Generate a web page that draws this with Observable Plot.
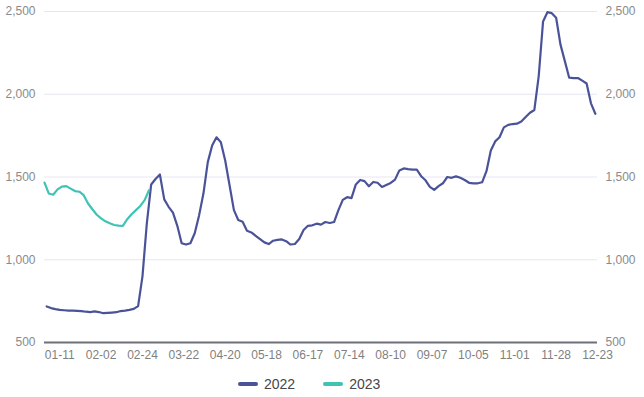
<!DOCTYPE html>
<html><head><meta charset="utf-8">
<script src="https://cdn.jsdelivr.net/npm/d3@7"></script>
<script src="https://cdn.jsdelivr.net/npm/@observablehq/plot@0.6"></script>
<style>
body{margin:0;background:#fff;font-family:"Liberation Sans",Arial,sans-serif;}
#wrap{position:relative;width:644px;height:397px;overflow:hidden;}
#legend{position:absolute;left:238px;top:376px;display:flex;align-items:center;font-size:14px;line-height:16px;color:#464646;}
.item{display:flex;align-items:center;margin-right:28px;}
.sw{width:20px;height:4px;border-radius:2px;margin-right:6px;}
</style></head><body>
<div id="wrap"><div id="chart"></div><div id="legend"></div></div>
<script>
const seriesNames = ["2022", "2023"];
const seriesColors = ["#4a5398", "#3ec3b5"];
const tickLabels = ["01-11","02-02","02-24","03-22","04-20","05-18","06-17","07-14","08-10","09-07","10-05","11-01","11-28","12-23"];
const tickIndex = [7,26,45,64,83,102,121,140,159,178,197,216,235,254];
const yTicks = [500, 1000, 1500, 2000, 2500];
const start2022 = 1, start2023 = 0, step = 2;
const values2022 = [718,708,702,697,695,693,692,691,690,686,684,688,684,677,679,681,683,690,693,697,703,720,
 900,1220,1455,1488,1515,1365,1320,1285,1205,1100,1092,1100,1160,1268,1400,1590,1690,1740,1710,1600,1450,1300,
 1240,1230,1175,1165,1145,1125,1105,1095,1115,1120,1123,1112,1092,1095,1125,1180,1205,1208,1218,1212,1228,1222,
 1228,1300,1362,1378,1372,1455,1482,1475,1444,1470,1465,1440,1452,1464,1484,1540,1552,1548,1545,1545,1505,1480,
 1440,1422,1445,1462,1500,1495,1504,1495,1482,1465,1462,1462,1468,1535,1660,1715,1740,1800,1815,1820,1822,1835,
 1862,1888,1905,2110,2440,2496,2490,2462,2300,2200,2100,2098,2098,2082,2065,1945,1882];
const values2023 = [1466,1400,1393,1425,1442,1445,1430,1415,1411,1390,1340,1305,1272,1250,1232,1220,1210,1206,1205,1245,1275,1300,1325,1360,1420];

const rows = (vals, start, name) => vals.map((v, k) => ({i: start + k * step, v, s: name}));
const rows2022 = rows(values2022, start2022, seriesNames[0]);
const rows2023 = rows(values2023, start2023, seriesNames[1]);
const fmt = d3.format(",");

const chart = Plot.plot({
  width: 644, height: 365,
  marginLeft: 44, marginRight: 47, marginTop: 11, marginBottom: 23,
  style: {fontFamily: "Liberation Sans, Arial, sans-serif", fontSize: "12px", background: "#fff"},
  x: {type: "linear", domain: [0, 254]},
  y: {domain: [500, 2500]},
  marks: [
    Plot.ruleY(yTicks.slice(1), {stroke: "#e6e6f2", strokeWidth: 1}),
    Plot.axisY({anchor: "left", ticks: yTicks, tickSize: 0, tickPadding: 9, tickFormat: fmt, fill: "#8a8a8a", label: null}),
    Plot.axisY({anchor: "right", ticks: yTicks, tickSize: 0, tickPadding: 8, tickFormat: fmt, fill: "#8a8a8a", label: null}),
    Plot.axisX({ticks: tickIndex, tickFormat: d => tickLabels[tickIndex.indexOf(d)], tickSize: 0, tickPadding: 8, fill: "#7f7f7f", label: null}),
    Plot.line(rows2022, {x: "i", y: "v", stroke: seriesColors[0], strokeWidth: 2.2, curve: "linear"}),
    Plot.line(rows2023, {x: "i", y: "v", stroke: seriesColors[1], strokeWidth: 2.2, curve: "linear"}),
    Plot.ruleY([500], {stroke: "#6e7079", strokeWidth: 2})
  ]
});
document.getElementById("chart").appendChild(chart);

const legend = document.getElementById("legend");
seriesNames.forEach((n, k) => {
  const it = document.createElement("div"); it.className = "item";
  const sw = document.createElement("div"); sw.className = "sw"; sw.style.background = seriesColors[k];
  const tx = document.createElement("span"); tx.textContent = n;
  it.appendChild(sw); it.appendChild(tx); legend.appendChild(it);
});
</script>
</body></html>
